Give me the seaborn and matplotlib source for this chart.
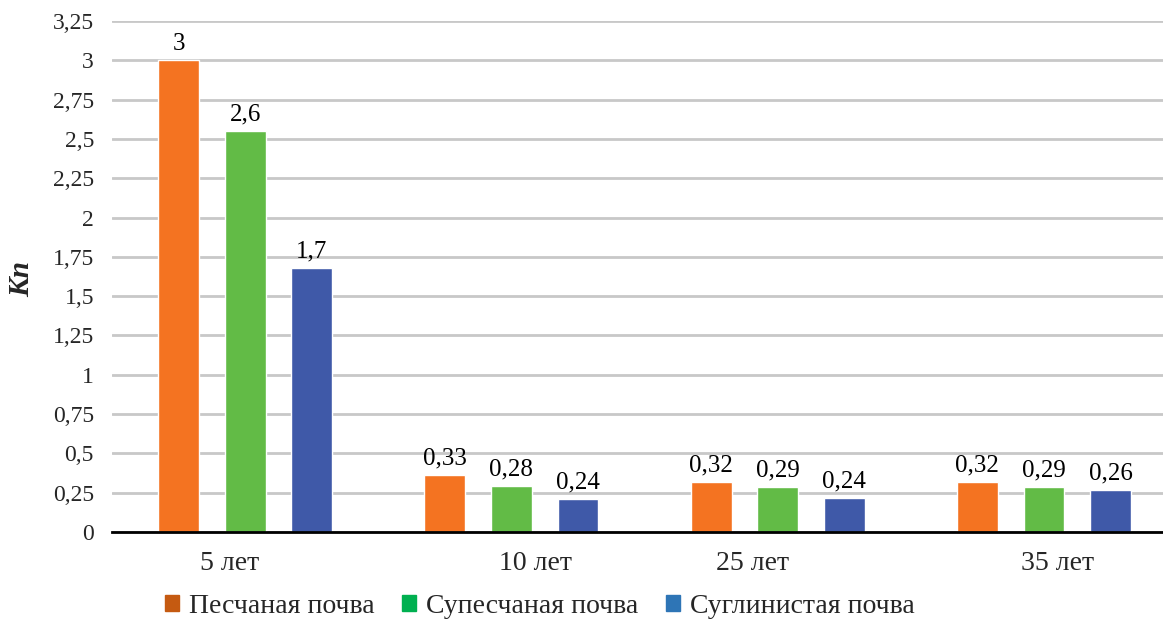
import matplotlib
matplotlib.use("Agg")
import matplotlib.pyplot as plt
import matplotlib.patches as mpatches
import seaborn as sns
import pandas as pd

periods = ["5 лет", "10 лет", "25 лет", "35 лет"]
soils = ["Песчаная почва", "Супесчаная почва", "Суглинистая почва"]
# bar heights as drawn
sand = [3.0, 0.363, 0.319, 0.319]
sandy_loam = [2.55, 0.293, 0.287, 0.287]
loam = [1.68, 0.21, 0.217, 0.268]
# labels as printed
sand_lbl = ["3", "0,33", "0,32", "0,32"]
sandy_loam_lbl = ["2,6", "0,28", "0,29", "0,29"]
loam_lbl = ["1,7", "0,24", "0,24", "0,26"]
yticks = [0, 0.25, 0.5, 0.75, 1, 1.25, 1.5, 1.75, 2, 2.25, 2.5, 2.75, 3, 3.25]
ytick_labels = ["0", "0,25", "0,5", "0,75", "1", "1,25", "1,5", "1,75", "2",
                "2,25", "2,5", "2,75", "3", "3,25"]
xlabel_shift = [-0.06, 0.09, -0.095, 0.05]

bar_colors = ["#F47321", "#62BB46", "#3F59A8"]
legend_colors = ["#C55A11", "#00B050", "#2E75B6"]

rows = []
for i, p in enumerate(periods):
    for s, vals in zip(soils, [sand, sandy_loam, loam]):
        rows.append({"period": p, "soil": s, "value": vals[i]})
df = pd.DataFrame(rows)

sns.set_theme(style="white")
plt.rcParams["font.family"] = ["Liberation Serif", "DejaVu Serif"]

fig = plt.figure(figsize=(11.63, 6.21), dpi=100)
ax = fig.add_axes([112 / 1163, 1 - 532 / 621, 1 - 112 / 1163, (532 - 21) / 621])

sns.barplot(data=df, x="period", y="value", hue="soil", order=periods,
            hue_order=soils, palette=bar_colors, width=0.75, gap=0.385,
            saturation=1, ax=ax, legend=False)

labels_all = [sand_lbl, sandy_loam_lbl, loam_lbl]
for cont, lbls in zip(ax.containers, labels_all):
    ax.bar_label(cont, labels=lbls, padding=4, fontsize=18, color="black")

ax.set_ylim(0, 3.25)
ax.set_xlim(-0.5, 3.447)
ax.set_yticks(yticks)
ax.set_yticklabels(ytick_labels, fontsize=17)
ax.yaxis.grid(True, color="#C8C8C8", linewidth=2)
ax.set_axisbelow(True)
for sp in ["left", "right", "top"]:
    ax.spines[sp].set_visible(False)
ax.spines["bottom"].set_color("black")
ax.spines["bottom"].set_linewidth(2)
ax.tick_params(axis="y", length=0, pad=13)
ax.tick_params(axis="x", length=0, pad=14)
ax.set_xticks([i + d for i, d in enumerate(xlabel_shift)])
ax.set_xticklabels(periods, fontsize=20)
ax.set_xlabel("")
ax.set_ylabel("Кп", fontsize=21, fontweight="bold", fontstyle="italic", va="center")
ax.yaxis.set_label_coords((22 - 112) / 1051, (532 - 279) / 511)

handles = [mpatches.Patch(color=c, label=s) for c, s in zip(legend_colors, soils)]
fig.legend(handles=handles, loc="center", bbox_to_anchor=(0.464, 0.024),
           ncol=3, frameon=False, fontsize=20, handlelength=0.5, handleheight=0.5,
           handletextpad=0.36, columnspacing=1.0, borderpad=0, borderaxespad=0)

fig.savefig("out.png", dpi=100)
